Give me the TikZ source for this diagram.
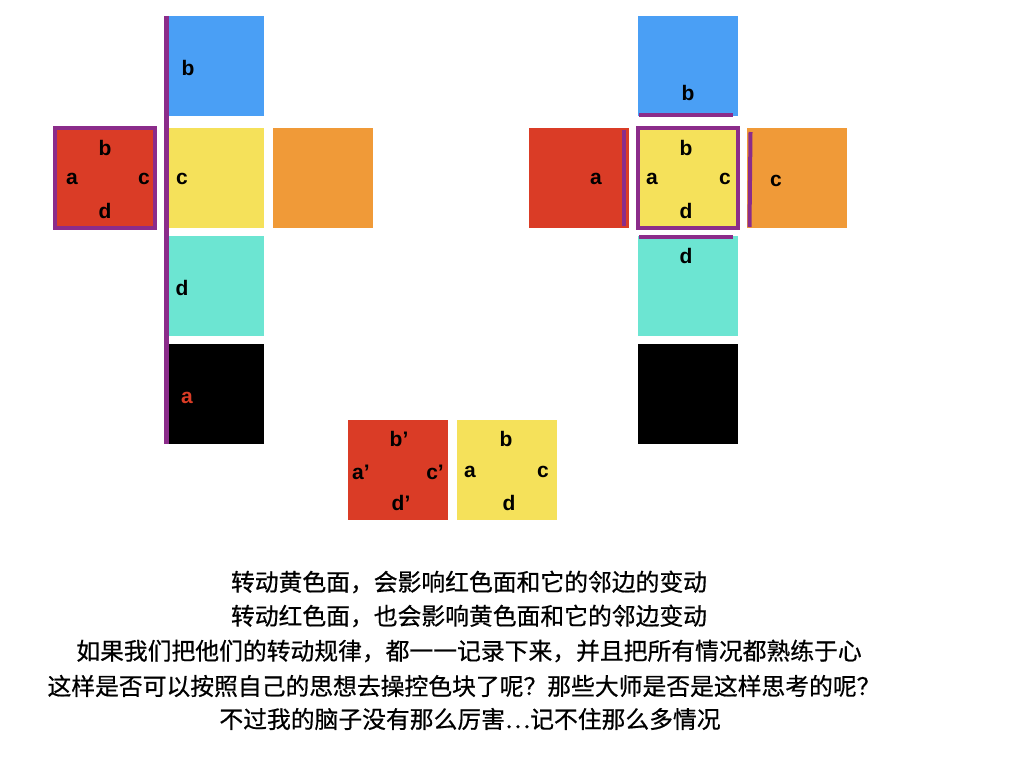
\documentclass[tikz,border=0pt]{standalone}
\usepackage{fontspec}
\setmainfont{Liberation Sans}
\newfontfamily\cjk[FakeBold=0.6]{Noto Sans CJK SC}
\definecolor{cblue}{HTML}{4A9FF5}
\definecolor{cyellow}{HTML}{F5E15A}
\definecolor{cteal}{HTML}{6CE5D2}
\definecolor{corange}{HTML}{F09A38}
\definecolor{cred}{HTML}{DA3C26}
\definecolor{cpurple}{HTML}{8B2C8A}
\begin{document}
\begin{tikzpicture}[x=1pt,y=-1pt,
  sq/.style={minimum size=100pt,inner sep=0pt,outer sep=0pt,draw=none},
  lbl/.style={inner sep=0pt,font=\fontsize{21}{21}\selectfont\bfseries},
  pline/.style={draw=cpurple,line width=4.5pt},
  cjkline/.style={inner sep=0pt,font=\cjk\fontsize{23.8}{24}\selectfont}]
\useasboundingbox (0,0) rectangle (1024,768);
% left cross
\node[sq,fill=cblue] (lb) at (214,66) {};
\node[sq,fill=cyellow] (ly) at (214,178) {};
\node[sq,fill=cteal] (lt) at (214,286) {};
\node[sq,fill=black] (lk) at (214,394) {};
\node[sq,fill=corange] (lo) at (323,178) {};
\node[sq,fill=cred,draw=cpurple,line width=4.5pt] (lr) at (105,178) {};
\draw[pline] ([xshift=2.5pt]lb.north west) -- ([xshift=2.5pt]lk.south west);
\node[lbl] (lbb) at (188,68) {b};
\node[lbl] (lyc) at (182,179) {c};
\node[lbl] (ltd) at (182,288) {d};
\node[lbl,text=cred] (lka) at (187,398) {a};
\node[lbl] (lrb) at (105,148) {b};
\node[lbl] (lra) at (72,179) {a};
\node[lbl] (lrc) at (144,179) {c};
\node[lbl] (lrd) at (105,211) {d};
% right cross
\node[sq,fill=cblue] (rb) at (688,66) {};
\node[sq,fill=cred] (rr) at (579,178) {};
\node[sq,fill=cyellow,draw=cpurple,line width=4.5pt] (ry) at (688,178) {};
\node[sq,fill=corange] (ro) at (797,178) {};
\node[sq,fill=cteal] (rt) at (688,286) {};
\node[sq,fill=black] (rk) at (688,394) {};
\draw[pline,line width=4pt] ([xshift=1pt,yshift=1pt]rb.south west) -- ([xshift=-5pt,yshift=1pt]rb.south east);
\draw[pline,line width=4pt] ([xshift=1pt,yshift=-1pt]rt.north west) -- ([xshift=-5pt,yshift=-1pt]rt.north east);
\draw[pline,line width=4pt] ([xshift=-5pt,yshift=-2pt]rr.north east) -- ([xshift=-5pt,yshift=2pt]rr.south east);
\draw[pline,line width=4pt] ([xshift=3.5pt,yshift=-4pt]ro.north west) -- ([xshift=2.5pt,yshift=1pt]ro.south west);
\node[lbl] (rbb) at (688,93) {b};
\node[lbl] (rra) at (596,179) {a};
\node[lbl] (ryb) at (686,148) {b};
\node[lbl] (rya) at (652,179) {a};
\node[lbl] (ryc) at (725,179) {c};
\node[lbl] (ryd) at (686,211) {d};
\node[lbl] (roc) at (776,181) {c};
\node[lbl] (rtd) at (686,256) {d};
% bottom pair
\node[sq,fill=cred] (br) at (398,470) {};
\node[sq,fill=cyellow] (by) at (507,470) {};
\node[lbl] (brb) at (399,439) {b’};
\node[lbl] (bra) at (361,472) {a’};
\node[lbl] (brc) at (435,472) {c’};
\node[lbl] (brd) at (401,503) {d’};
\node[lbl] (byb) at (506,439) {b};
\node[lbl] (bya) at (470,472) {a};
\node[lbl] (byc) at (543,472) {c};
\node[lbl] (byd) at (509,503) {d};
% text
\node[cjkline] (t1) at (469,582) {转动黄色面，会影响红色面和它的邻边的变动};
\node[cjkline] (t2) at (469,616) {转动红色面，也会影响黄色面和它的邻边变动};
\node[cjkline] (t3) at (469,651) {如果我们把他们的转动规律，都一一记录下来，并且把所有情况都熟练于心};
\node[cjkline] (t4) at (464,686) {这样是否可以按照自己的思想去操控色块了呢？那些大师是否是这样思考的呢？};
\node[cjkline] (t5) at (470,719) {不过我的脑子没有那么厉害…记不住那么多情况};
\end{tikzpicture}
\end{document}
